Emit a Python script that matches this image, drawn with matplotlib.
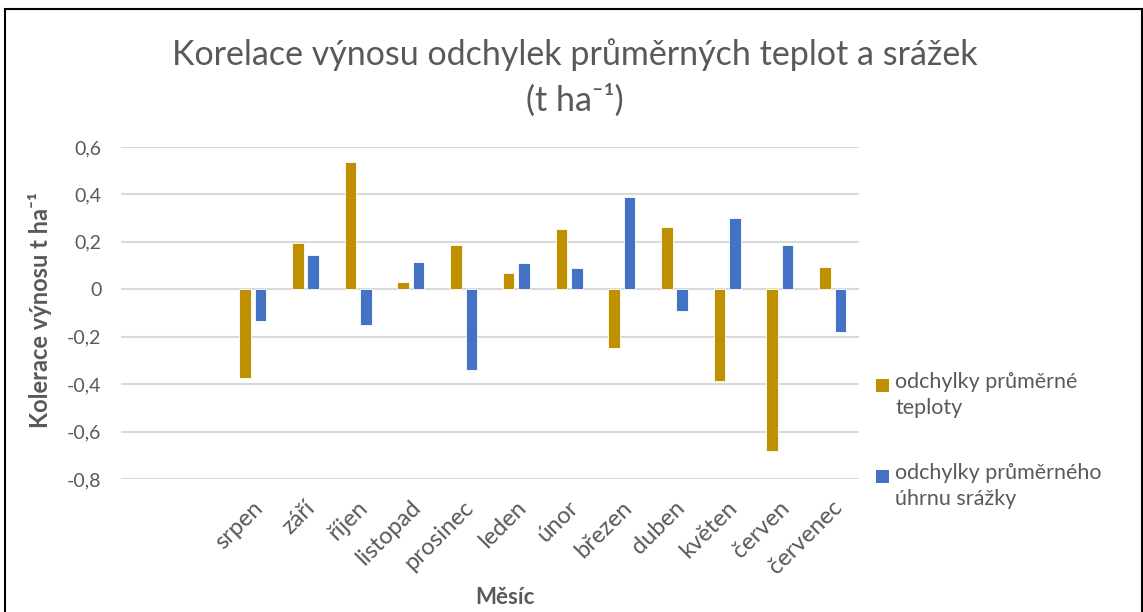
# -*- coding: utf-8 -*-

import numpy as np
import matplotlib
matplotlib.use("Agg")
import matplotlib.pyplot as plt
from matplotlib.patches import Rectangle

# データ
months = ['srpen', 'září', 'říjen', 'listopad', 'prosinec', 'leden',
          'únor', 'březen', 'duben', 'květen', 'červen', 'červenec']
teplota = [-0.376, 0.196, 0.535, 0.030, 0.186, 0.069,
           0.256, -0.249, 0.263, -0.386, -0.682, 0.094]
srazky = [-0.135, 0.146, -0.149, 0.115, -0.339, 0.111,
          0.090, 0.390, -0.092, 0.299, 0.186, -0.182]
yticks = [-0.8, -0.6, -0.4, -0.2, 0, 0.2, 0.4, 0.6]

label_t = 'odchylky průměrné\nteploty'
label_s = 'odchylky průměrného\núhrnu srážky'

COLOR_T = '#BF9000'
COLOR_S = '#4472C4'
GREY = '#595959'

plt.rcParams['font.family'] = ['Lato', 'DejaVu Sans']

W, H = 1143, 612
fig = plt.figure(figsize=(W / 100, H / 100), dpi=100)
ax = fig.add_axes([121 / W, 1 - 479 / H, (859 - 121) / W, (479 - 147) / H])

x = np.arange(len(months))
bw = 0.22
ax.bar(x - 0.147, teplota, bw, color=COLOR_T, edgecolor='white', linewidth=0.6,
       zorder=3)
ax.bar(x + 0.147, srazky, bw, color=COLOR_S, edgecolor='white', linewidth=0.6,
       zorder=3)

# 先頭に空のカテゴリが2つある
ax.set_xlim(-2.5, len(months) - 0.5)
ax.set_ylim(-0.8, 0.6)
ax.set_yticks(yticks)
ax.set_yticklabels([('%g' % v).replace('.', ',') for v in yticks],
                   fontsize=14, color=GREY)
ax.yaxis.grid(True, color='#D9D9D9', linewidth=1.5, zorder=0)
ax.set_axisbelow(True)
for s in ax.spines.values():
    s.set_visible(False)
ax.tick_params(axis='both', length=0)
ax.tick_params(axis='y', pad=14)

# 月ラベル（下端に45度）
ax.set_xticks([])
for xi, m in zip(x, months):
    ax.annotate(m, xy=(xi, -0.8), xycoords='data', xytext=(-1, -18),
                textcoords='offset pixels', rotation=45, ha='right', va='top',
                rotation_mode='anchor', fontsize=17, color=GREY)

fig.text(505 / W, 1 - 597 / H, 'Měsíc', ha='center', va='center',
         fontsize=16, fontweight='bold', color=GREY)
fig.text(40 / W, 1 - 310 / H, 'Kolerace výnosu t ha⁻¹', ha='center',
         va='center', rotation=90, fontsize=17, fontweight='bold', color=GREY)

fig.text(575 / W, 1 - 55 / H, 'Korelace výnosu odchylek průměrných teplot a srážek',
         ha='center', va='center', fontsize=24.5, color=GREY)
fig.text(575 / W, 1 - 100 / H, '(t ha⁻¹)', ha='center', va='center',
         fontsize=24.5, color=GREY)

# 凡例（手動）
for (lab, col, y0) in [(label_t, COLOR_T, 385), (label_s, COLOR_S, 476)]:
    fig.patches.append(Rectangle((876 / W, 1 - (y0 + 6.5) / H), 13 / W, 13 / H,
                                 transform=fig.transFigure, facecolor=col,
                                 edgecolor='none'))
    fig.text(895 / W, 1 - (y0 - 13) / H, lab, ha='left', va='top',
             fontsize=15.5, color=GREY, linespacing=1.35)

# 外枠
fig.patches.append(Rectangle((5 / W, -0.05), (1142 - 5) / W, 1.05 - 9 / H,
                             transform=fig.transFigure, fill=False,
                             edgecolor='black', linewidth=1.5))

fig.savefig('out.png', dpi=100)
